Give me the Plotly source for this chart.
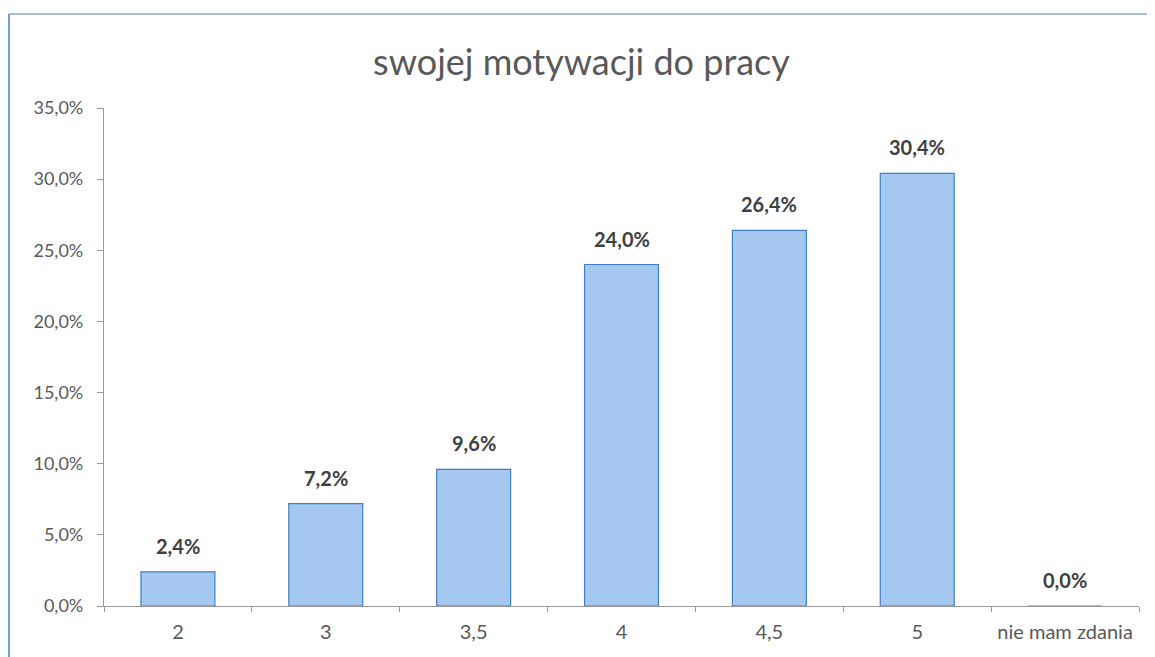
import plotly.graph_objects as go

categories = ["2", "3", "3,5", "4", "4,5", "5", "nie mam zdania"]
values = [2.4, 7.2, 9.6, 24.0, 26.4, 30.4, 0.0]
title_text = "swojej motywacji do pracy"

OFF = 8  # page body margin
W, H = 1155 - OFF, 657 - OFF
ml, mr, mt, mb = 104 - OFF, 16, 108 - OFF, 51
pw, ph = W - ml - mr, H - mt - mb

def px_x(p):
    return (p - OFF - ml) / pw

def px_y(p):
    return (H - mb - (p - OFF)) / ph

fig = go.Figure(go.Bar(
    x=categories, y=values,
    marker=dict(color="#A5C8F0", line=dict(color="#3F7FC4", width=1.2)),
    hoverinfo="x+y",
))

annotations = [
    dict(x=i, y=v, xref="x", yref="y", text=f"{v:.1f}".replace(".", ",") + "%",
         showarrow=False, yanchor="bottom", yshift=12,
         font=dict(family="Lato", size=20, color="#404040", weight="bold"))
    for i, v in enumerate(values)
]

fig.update_layout(
    width=W, height=H,
    margin=dict(l=ml, r=mr, t=mt, b=mb),
    paper_bgcolor="white", plot_bgcolor="white",
    separators=", ",
    bargap=0.5,
    showlegend=False,
    font=dict(family="Lato", color="#595959"),
    title=dict(text=title_text, x=0.5, xanchor="center", xref="container",
               y=1 - (62 - OFF) / H, yanchor="middle", yref="container",
               font=dict(family="Lato", size=36, color="#595959")),
    xaxis=dict(type="category", showline=True, linecolor="#9A9A9A", linewidth=1.2,
               ticks="outside", tickson="boundaries", ticklen=5, tickcolor="#9A9A9A",
               ticklabelstandoff=8,
               showgrid=False, tickfont=dict(size=20, color="#595959")),
    yaxis=dict(range=[0, 35], dtick=5, tickformat=".1f", ticksuffix="%",
               showline=True, linecolor="#9A9A9A", linewidth=1.2,
               ticks="outside", ticklen=6, tickcolor="#9A9A9A",
               ticklabelstandoff=10,
               showgrid=False, zeroline=False,
               tickfont=dict(size=18, color="#595959")),
    annotations=annotations,
    shapes=[
        dict(type="line", xref="paper", yref="paper",
             x0=px_x(9), x1=px_x(1160), y0=px_y(14), y1=px_y(14),
             line=dict(color="#8FA8CC", width=1.5)),
        dict(type="line", xref="paper", yref="paper",
             x0=px_x(9), x1=px_x(9), y0=px_y(14), y1=px_y(660),
             line=dict(color="#4A7EBB", width=1.5)),
    ],
)

fig.write_html("out.html")
